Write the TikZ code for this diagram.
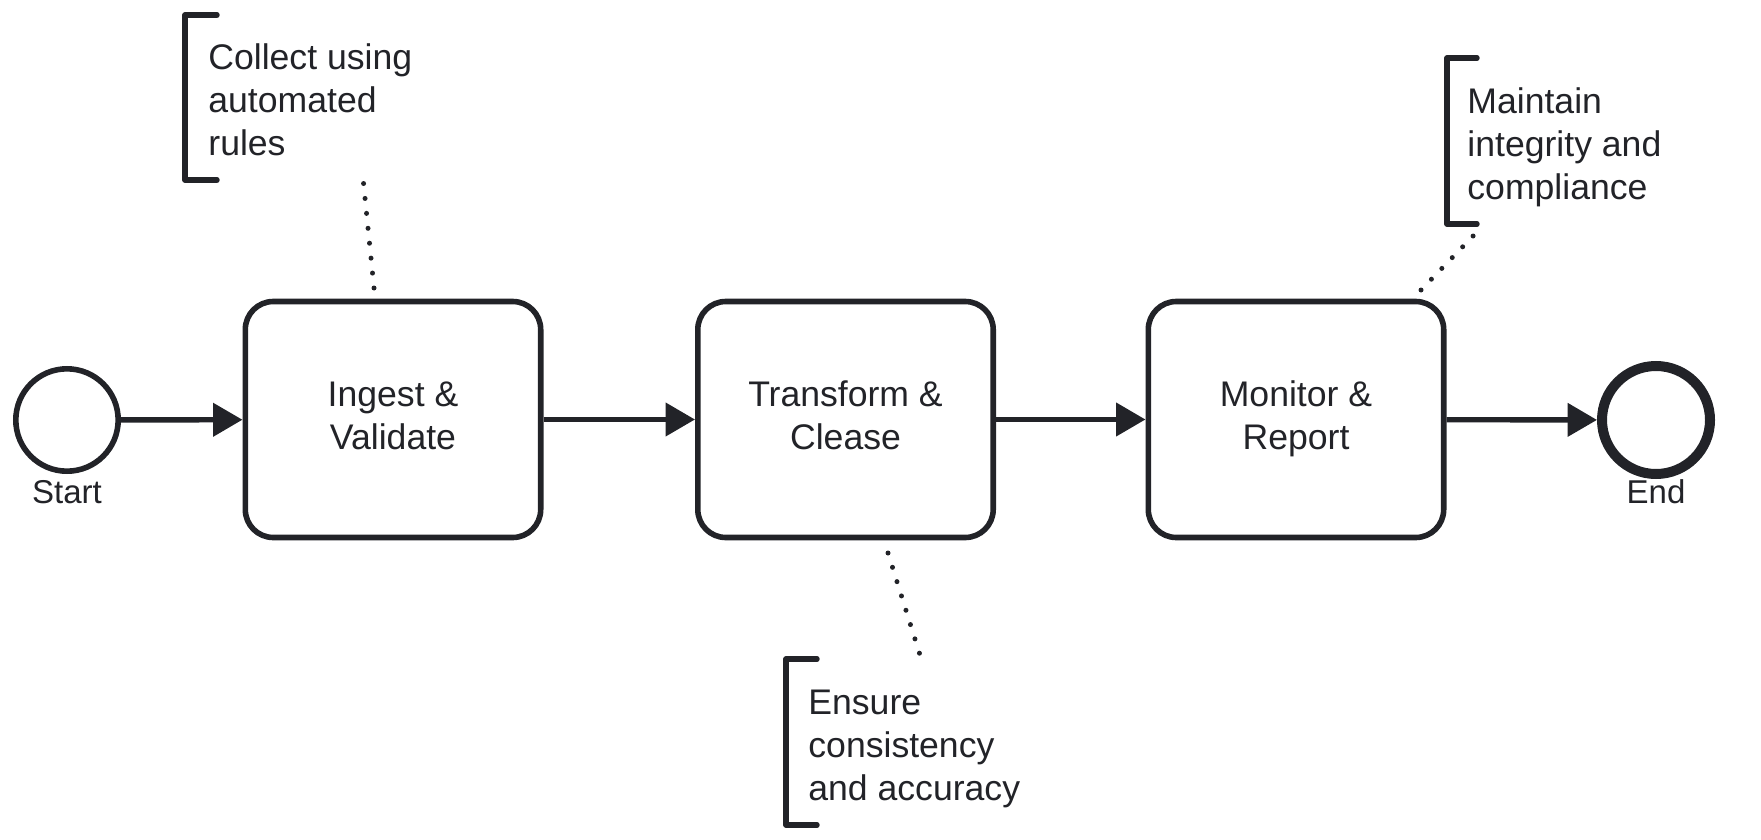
\documentclass[tikz,border=0pt]{standalone}
\usepackage{fontspec}
\setmainfont{Liberation Sans}
\usetikzlibrary{arrows.meta}
\definecolor{ink}{RGB}{34,35,40}
\tikzset{
	task/.style={draw=ink,line width=2.8pt,rounded corners=14pt,minimum width=147.7pt,minimum height=118pt,align=center,inner sep=0pt,text=ink},
	event/.style={draw=ink,circle,line width=2.8pt,minimum size=51.2pt,inner sep=0pt},
	endevent/.style={event,line width=5pt,minimum size=54pt},
	evlabel/.style={text=ink,font=\fontsize{16.5}{20}\selectfont},
	flow/.style={draw=ink,line width=2.7pt,-{Triangle[length=14.7pt,width=16.3pt]}},
	assoc/.style={draw=ink,line width=2.5pt,line cap=round,dash pattern=on 0pt off 7.5pt},
	bracket/.style={draw=ink,line width=2.7pt,line cap=round,line join=round},
	note/.style={align=left,inner sep=0pt,anchor=west,text=ink}
}
\begin{document}
\begin{tikzpicture}[x=.5pt,y=-.5pt,font=\fontsize{17.8}{21.5}\selectfont]
	\useasboundingbox (0,0) rectangle (1761,840);
	% events and tasks
	\node[event] (start) at (67,420) {};
	\node[evlabel] (startlbl) at (67,492) {Start};
	\node[task] (ingest) at (393,419.5) {\strut Ingest \&\\\strut Validate};
	\node[task] (transform) at (845.5,419.5) {\strut Transform \&\\\strut Clease};
	\node[task] (monitor) at (1296,419.5) {\strut Monitor \&\\\strut Report};
	\node[endevent] (end) at (1656,420) {};
	\node[evlabel] (endlbl) at (1656,492) {End};
	\draw[flow] (start)--(ingest);
	\draw[flow] (ingest)--(transform);
	\draw[flow] (transform)--(monitor);
	\draw[flow] (monitor)--(end);
	% annotations
	\node[note] (collect) at (208,100) {Collect using\\automated\\rules};
	\draw[bracket] (217,15)--(185,15)--(185,180)--(217,180);
	\node[note] (ensure) at (808,748.5) {Ensure\\consistency\\and accuracy};
	\draw[bracket] (817,659)--(786,659)--(786,825)--(817,825);
	\node[note] (maintain) at (1467,147) {Maintain\\integrity and\\compliance};
	\draw[bracket] (1477,58)--(1447,58)--(1447,224)--(1477,224);
	% associations
	\coordinate (c1) at (363,178); \coordinate (i1) at (374,288);
	\coordinate (c2) at (920,655); \coordinate (i2) at (888,553);
	\coordinate (c3) at (1475,234); \coordinate (i3) at (1421,290);
	\draw[assoc] (i1)--(c1);
	\draw[assoc] (i2)--(c2);
	\draw[assoc] (i3)--(c3);
\end{tikzpicture}
\end{document}
